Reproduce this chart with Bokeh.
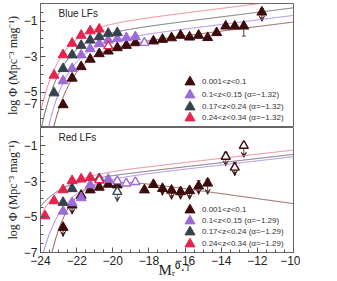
import numpy as np
from bokeh.plotting import figure
from bokeh.layouts import column
from bokeh.models import (Range1d, FixedTicker, Legend, LegendItem, Label,
                          ColumnDataSource, Whisker, TeeHead, VeeHead)
from bokeh.embed import file_html
from bokeh.resources import INLINE

# ---------------- data: Blue LFs (top panel) ----------------
blue_z1_M = [-22.75, -22.25, -21.75, -21.25, -20.75, -20.25, -19.75, -19.25, -18.75,
             -17.75, -17.25, -16.75, -16.25, -15.75, -15.25, -14.75, -14.25, -13.75,
             -13.25, -12.75, -11.75]
blue_z1_y = [-5.72, -4.22, -3.57, -3.15, -2.84, -2.69, -2.50, -2.37, -2.22,
             -2.12, -2.03, -1.94, -1.80, -1.90, -1.80, -1.93, -1.65, -1.28,
             -1.28, -1.28, -0.49]
blue_z2_M = [-22.75, -22.25, -21.75, -21.25, -20.75, -20.25, -19.75, -19.25, -18.75]
blue_z2_y = [-4.37, -3.68, -2.91, -2.56, -2.27, -2.07, -1.99, -1.94, -1.88]
blue_z2_open_M = [-18.25]
blue_z2_open_y = [-2.22]
blue_z3_M = [-23.25, -22.75, -22.25, -21.75, -21.25, -20.75, -20.25, -19.75]
blue_z3_y = [-5.05, -3.68, -2.91, -2.37, -2.07, -1.88, -1.69, -1.65]
blue_z4_M = [-23.25, -22.75, -22.25, -21.75, -21.25, -20.75]
blue_z4_y = [-4.05, -2.90, -2.25, -1.80, -1.55, -1.45]
blue_z4_open_M = [-20.25]
blue_z4_open_y = [-2.40]
# error bars (brown): cap at top, cap or arrow at bottom
blue_err_cap_M = [-12.75]
blue_err_cap_hi = [-1.15]
blue_err_cap_lo = [-1.84]
blue_err_arrow_M = [-11.75]
blue_err_arrow_hi = [-0.29]
blue_err_arrow_lo = [-1.00]
# Schechter fits: M*, log(0.4 ln10 phi*), alpha
blue_fit_Mstar = [-20.8, -21.0, -21.3, -21.45]
blue_fit_lognorm = [-2.43, -2.08, -1.69, -1.23]
blue_fit_alpha = [-1.32, -1.32, -1.32, -1.32]

# ---------------- data: Red LFs (bottom panel) ----------------
red_z1_M = [-22.75, -22.25, -21.75, -21.25, -20.75, -20.25, -19.75, -18.25,
            -17.75, -17.25, -16.75, -16.25, -15.75, -15.25, -14.75]
red_z1_y = [-5.60, -4.35, -3.80, -3.50, -3.35, -3.18, -3.22, -3.50,
            -3.20, -3.42, -3.52, -3.60, -3.54, -3.28, -3.12]
red_z1_open_M = [-13.75, -13.25, -12.75]
red_z1_open_y = [-1.63, -2.24, -1.02]
red_z2_M = [-22.75, -22.25, -21.75, -21.25, -20.25]
red_z2_y = [-4.69, -4.22, -3.94, -3.22, -2.90]
red_z2_open_M = [-19.75, -19.25, -18.75]
red_z2_open_y = [-3.00, -3.13, -3.05]
red_z3_M = [-22.75, -22.25]
red_z3_y = [-4.20, -3.43]
red_z3_open_M = [-20.75, -19.75]
red_z3_open_y = [-2.86, -3.60]
red_z4_M = [-23.75, -23.25, -22.75, -22.25, -21.75, -21.25]
red_z4_y = [-4.95, -4.11, -3.49, -2.98, -2.89, -2.80]
red_z4_open_M = [-20.75]
red_z4_open_y = [-2.94]
red_err_z1_M = [-22.75, -22.25, -17.25, -16.75, -16.25, -15.75, -15.25, -14.75,
                -13.75, -13.25, -12.75]
red_err_z1_hi = [-5.45, -4.20, -3.30, -3.40, -3.45, -3.40, -2.98, -2.89,
                 -1.39, -1.96, -0.83]
red_err_z1_lo = [-6.10, -4.85, -3.80, -4.02, -4.02, -4.02, -3.74, -3.74,
                 -2.14, -2.70, -1.67]
red_err_z3_M = [-19.75]
red_err_z3_hi = [-3.45]
red_err_z3_lo = [-4.15]
red_fit_Mstar = [-20.8, -21.5, -22.8, -22.3]
red_fit_lognorm = [-2.75, -2.97, -2.99, -2.69]
red_fit_alpha = [-0.65, -1.29, -1.29, -1.29]

z_labels = ["0.001<z<0.1", "0.1<z<0.15", "0.17<z<0.24", "0.24<z<0.34"]
x_ticks = [-24, -22, -20, -18, -16, -14, -12, -10]
y_ticks = [-7, -5, -3, -1]

# ---------------- style ----------------
MARK = ["#3d0b0b", "#9c6bd8", "#36424b", "#e5234d"]
LINE = ["#8a5656", "#a886e6", "#6a6a6a", "#f27d93"]
SANS = "Liberation Sans"
SERIF = "Liberation Serif"

M_grid = np.linspace(-24, -10, 400)


def schechter(mstar, lognorm, alpha):
    x = 10 ** (-0.4 * (M_grid - mstar))
    return lognorm + (alpha + 1) * np.log10(x) - x / np.log(10)


def minus(v):
    return str(v).replace("-", "\u2212")


x_range = Range1d(-24, -10)


def make_fig(height, top_border, bottom_border):
    p = figure(width=300, height=height, x_range=x_range, y_range=Range1d(-7, 0),
               output_backend="svg", toolbar_location=None,
               min_border_left=40, min_border_right=7, min_border_top=top_border,
               min_border_bottom=bottom_border)
    p.grid.visible = False
    p.outline_line_color = "#666666"
    p.outline_line_width = 1
    p.background_fill_color = "white"
    p.border_fill_color = "white"
    for ax in (p.xaxis[0], p.yaxis[0]):
        ax.axis_line_color = None
        ax.major_tick_in = 5
        ax.major_tick_out = 0
        ax.minor_tick_in = 3
        ax.minor_tick_out = 0
        ax.major_tick_line_color = "#555555"
        ax.minor_tick_line_color = "#555555"
        ax.major_label_text_font = SANS
        ax.major_label_text_font_size = "12px"
        ax.major_label_text_color = "#222222"
    p.xaxis.ticker = FixedTicker(ticks=x_ticks, minor_ticks=list(np.arange(-24, -9.9, 0.5)))
    p.yaxis.ticker = FixedTicker(ticks=y_ticks, minor_ticks=list(np.arange(-7, 0.01, 0.5)))
    p.xaxis.major_label_overrides = {t: minus(t) for t in x_ticks}
    p.yaxis.major_label_overrides = {t: minus(t) for t in y_ticks}
    p.yaxis.major_label_standoff = 3
    p.yaxis.axis_label = "log \u03a6 (Mpc\u207b\u00b3 mag\u207b\u00b9)"
    p.yaxis.axis_label_text_font = SERIF
    p.yaxis.axis_label_text_font_size = "12px"
    p.yaxis.axis_label_text_font_style = "normal"
    p.yaxis.axis_label_text_color = "#222222"
    p.yaxis.axis_label_standoff = 1
    return p


def draw_panel(p, fits, series, opens, errs, alpha_txt, title, title_y, leg_x, leg_ys):
    mstars, norms, alphas = fits
    for i in range(4):
        p.line(M_grid, schechter(mstars[i], norms[i], alphas[i]),
               line_color=LINE[i], line_width=1)
    # error bars
    for (ci, em, ehi, elo, arrow) in errs:
        src = ColumnDataSource(dict(x=em, hi=ehi, lo=elo))
        lower = VeeHead(size=5, line_color=MARK[ci], fill_color=MARK[ci], line_width=0.8) if arrow \
            else TeeHead(size=4, line_color=MARK[ci], line_width=0.8)
        w = Whisker(source=src, base="x", upper="hi", lower="lo", dimension="height",
                    line_color=MARK[ci], line_width=0.8,
                    upper_head=TeeHead(size=4, line_color=MARK[ci], line_width=0.8),
                    lower_head=lower)
        p.add_layout(w)
    renderers = []
    for i, (mx, my) in enumerate(series):
        r = p.scatter(mx, my, marker="triangle", size=10, fill_color=MARK[i],
                      line_color=MARK[i], line_width=1)
        renderers.append(r)
        if opens[i] is not None:
            ox, oy = opens[i]
            p.scatter(ox, oy, marker="triangle", size=9, fill_color="white",
                      line_color=MARK[i], line_width=1.4)
    for i in range(4):
        lab = z_labels[i] if i == 0 else z_labels[i] + " (\u03b1=" + minus(alpha_txt) + ")"
        leg = Legend(items=[LegendItem(label=lab, renderers=[renderers[i]])],
                     location=(leg_x, leg_ys[i]), orientation="vertical",
                     glyph_width=25, glyph_height=25, spacing=0, padding=0, margin=0,
                     label_standoff=0, label_text_font=SANS, label_text_font_size="8px",
                     label_text_color="#333333", background_fill_alpha=0, border_line_alpha=0)
        p.add_layout(leg)
    p.add_layout(Label(x=18, y=title_y, x_units="screen", y_units="screen", text=title,
                       text_font=SANS, text_font_size="10px", text_color="#222222",
                       text_baseline="middle"))


# ---------------- top ----------------
p_top = make_fig(127, 3, 0)
p_top.xaxis.visible = False
ov = {t: minus(t) for t in y_ticks}
ov[-7] = "\u22127\n\u00a0"
p_top.yaxis.major_label_overrides = ov
draw_panel(
    p_top,
    (blue_fit_Mstar, blue_fit_lognorm, blue_fit_alpha),
    [(blue_z1_M, blue_z1_y), (blue_z2_M, blue_z2_y), (blue_z3_M, blue_z3_y), (blue_z4_M, blue_z4_y)],
    [None, (blue_z2_open_M, blue_z2_open_y), None, (blue_z4_open_M, blue_z4_open_y)],
    [(0, blue_err_cap_M, blue_err_cap_hi, blue_err_cap_lo, False),
     (0, blue_err_arrow_M, blue_err_arrow_hi, blue_err_arrow_lo, True)],
    -1.32, "Blue LFs", 114, 137, [33, 20, 8, -3])

# ---------------- bottom ----------------
p_bot = make_fig(154, 0, 29)
p_bot.xaxis.major_label_standoff = 3
p_bot.xaxis.axis_label = "\u2002\u2002M\u1d63\u2070\u00b7\u1d40"
p_bot.xaxis.axis_label_text_font = SERIF
p_bot.xaxis.axis_label_text_font_size = "15px"
p_bot.xaxis.axis_label_text_font_style = "normal"
p_bot.xaxis.axis_label_text_color = "#222222"
p_bot.xaxis.axis_label_standoff = -6
draw_panel(
    p_bot,
    (red_fit_Mstar, red_fit_lognorm, red_fit_alpha),
    [(red_z1_M, red_z1_y), (red_z2_M, red_z2_y), (red_z3_M, red_z3_y), (red_z4_M, red_z4_y)],
    [(red_z1_open_M, red_z1_open_y), (red_z2_open_M, red_z2_open_y),
     (red_z3_open_M, red_z3_open_y), (red_z4_open_M, red_z4_open_y)],
    [(0, red_err_z1_M, red_err_z1_hi, red_err_z1_lo, True),
     (2, red_err_z3_M, red_err_z3_hi, red_err_z3_lo, True)],
    -1.29, "Red LFs", 115, 137, [30, 19, 8, -4])

layout = column(p_top, p_bot, spacing=0)
open("out.html", "w").write(file_html(layout, INLINE))
